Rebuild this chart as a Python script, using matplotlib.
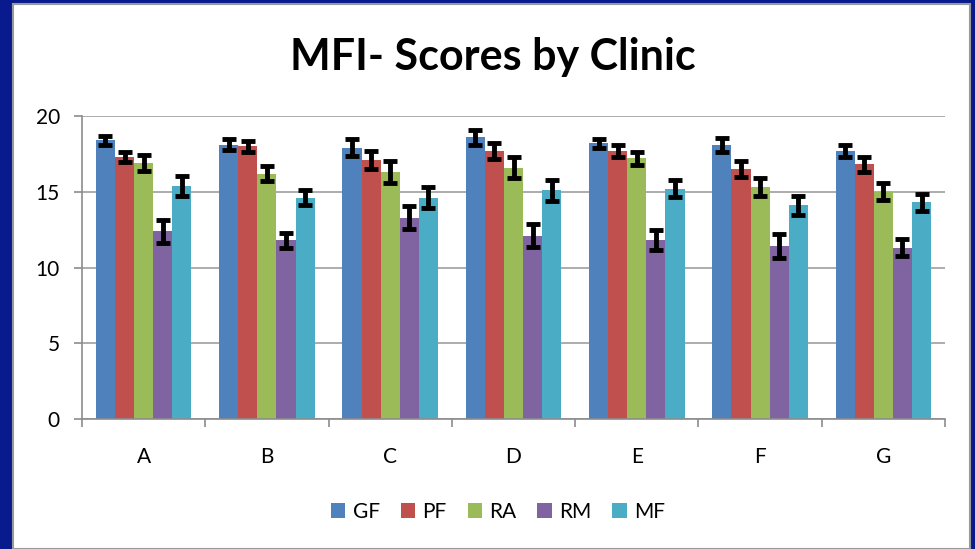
import numpy as np
import matplotlib.pyplot as plt
from matplotlib.patches import Rectangle

# Data
clinics = ['A', 'B', 'C', 'D', 'E', 'F', 'G']
series = ['GF', 'PF', 'RA', 'RM', 'MF']
gf = [18.4, 18.1, 17.9, 18.6, 18.2, 18.1, 17.7]
pf = [17.3, 18.0, 17.1, 17.7, 17.7, 16.5, 16.8]
ra = [16.9, 16.2, 16.3, 16.6, 17.2, 15.3, 15.0]
rm = [12.4, 11.8, 13.3, 12.1, 11.8, 11.4, 11.3]
mf = [15.4, 14.6, 14.6, 15.1, 15.2, 14.1, 14.3]
gf_err = [0.3, 0.35, 0.55, 0.5, 0.3, 0.45, 0.4]
pf_err = [0.35, 0.35, 0.6, 0.55, 0.4, 0.5, 0.5]
ra_err = [0.5, 0.5, 0.7, 0.7, 0.45, 0.6, 0.55]
rm_err = [0.75, 0.5, 0.75, 0.75, 0.65, 0.8, 0.55]
mf_err = [0.65, 0.5, 0.7, 0.7, 0.55, 0.65, 0.55]

values = [gf, pf, ra, rm, mf]
errors = [gf_err, pf_err, ra_err, rm_err, mf_err]
colors = ['#4F81BD', '#C0504D', '#9BBB59', '#8064A2', '#4BACC6']

plt.rcParams['font.family'] = ['Lato', 'DejaVu Sans']

fig = plt.figure(figsize=(9.75, 5.49), dpi=100)
fig.patch.set_facecolor('#081A8E')
# white slide panel with grey edge
fig.patches.append(Rectangle((13 / 975, 0), (970 - 13) / 975, (549 - 4) / 549,
                             transform=fig.transFigure, facecolor='white',
                             edgecolor='#9A9A9A', linewidth=1.5, zorder=-10))

ax = fig.add_axes([82 / 975, 1 - 419 / 549, (945 - 82) / 975, (419 - 116) / 549])
ax.set_facecolor('white')
ax.set_zorder(1)

x = np.arange(len(clinics))
width = 0.155
for i, (name, vals, errs, c) in enumerate(zip(series, values, errors, colors)):
    pos = x + (i - 2) * width
    ax.bar(pos, vals, width, color=c, label=name, zorder=2)
    ax.errorbar(pos, vals, yerr=errs, fmt='none', ecolor='black',
                elinewidth=3.5, capsize=5, capthick=3.5, zorder=3)

ax.set_xlim(-0.5, len(clinics) - 0.5)
ax.set_ylim(0, 20)
ax.set_yticks([0, 5, 10, 15, 20])
ax.yaxis.grid(True, color='#A6A6A6', linewidth=1.3, zorder=0)
ax.set_axisbelow(True)

ax.set_xticks(x)
ax.set_xticklabels(clinics)
ax.set_xticks(np.arange(len(clinics) + 1) - 0.5, minor=True)
ax.tick_params(axis='x', which='major', length=0, pad=20, labelsize=15)
ax.tick_params(axis='x', which='minor', length=6, color='#8C8C8C', width=1.2)
ax.tick_params(axis='y', length=6, color='#8C8C8C', width=1.2, pad=10, labelsize=15)

for sk in ['top', 'right']:
    ax.spines[sk].set_visible(False)
for sk in ['left', 'bottom']:
    ax.spines[sk].set_color('#8C8C8C')
    ax.spines[sk].set_linewidth(1.2)

fig.text(493 / 975, 1 - 57 / 549, 'MFI- Scores by Clinic', ha='center', va='center',
         fontsize=31, fontweight='bold')

fig.legend(loc='center', bbox_to_anchor=(498 / 975, 1 - 512 / 549), ncol=5,
           frameon=False, fontsize=15, handlelength=0.7, handleheight=0.7,
           handletextpad=0.35, columnspacing=1.0)

fig.savefig('out.png', dpi=100, facecolor=fig.get_facecolor())
